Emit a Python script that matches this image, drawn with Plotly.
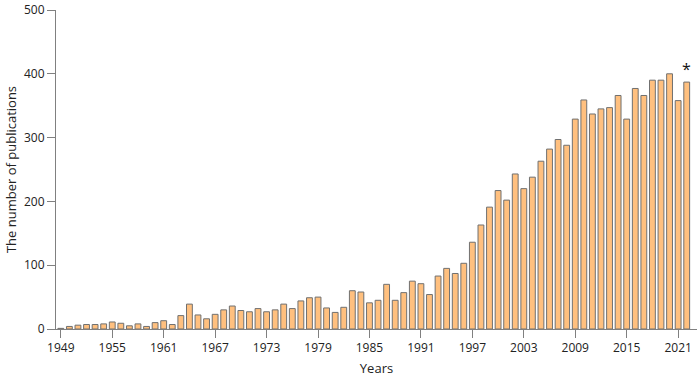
import plotly.graph_objects as go

years = list(range(1949, 2023))
publications = [
    1, 4, 6, 7, 7, 8, 11, 9, 5, 8, 4, 10, 13, 7,          # 1949-1962
    21, 39, 22, 16, 23, 30, 36, 29, 27, 32, 27, 30, 39, 32, 44, 49, 50,  # 1963-1979
    33, 26, 34, 60, 58, 41, 45, 70, 45, 57, 75, 71, 54, 83, 95, 87,      # 1980-1995
    103, 136, 163, 191, 217, 202, 243, 220, 238, 263, 282, 297, 288,     # 1996-2008
    329, 359, 337, 345, 347, 366, 329, 377, 366, 390, 390, 400, 358, 387  # 2009-2022
]
tick_years = list(range(1949, 2022, 6))
y_ticks = [0, 100, 200, 300, 400, 500]

font_family = "Open Sans, Noto Sans, sans-serif"
axis_color = "#808080"

fig = go.Figure()
fig.add_trace(go.Bar(
    x=years,
    y=publications,
    marker=dict(color="#FFC07F", line=dict(color="#707070", width=1)),
    width=0.68,
))

fig.add_annotation(x=2022, y=publications[-1], text="*", showarrow=False,
                   yanchor="bottom", yshift=0, font=dict(size=16, color="#111", family=font_family))

fig.update_layout(
    width=700, height=378,
    margin=dict(l=56, r=3, t=10, b=49, autoexpand=False),
    plot_bgcolor="white", paper_bgcolor="white",
    showlegend=False,
    font=dict(family=font_family, size=12, color="#222"),
)
fig.update_xaxes(
    range=[1948.44, 2023.2],
    tickmode="array", tickvals=tick_years, ticktext=[str(t) for t in tick_years],
    ticks="outside", ticklen=8, tickcolor=axis_color, tickwidth=1,
    showline=True, linecolor=axis_color, linewidth=1,
    showgrid=False, zeroline=False, automargin=False,
    title=dict(text="Years", standoff=8, font=dict(size=13)),
    tickfont=dict(size=12),
)
fig.update_yaxes(
    range=[0, 500],
    tickmode="array", tickvals=y_ticks,
    ticks="outside", ticklen=8, tickcolor=axis_color, tickwidth=1,
    showline=True, linecolor=axis_color, linewidth=1,
    showgrid=False, zeroline=False, automargin=False,
    title=dict(text="The number of publications", standoff=4, font=dict(size=13)),
    tickfont=dict(size=12),
)

fig.write_html("out.html", config={"displayModeBar": False},
               post_script="document.body.style.margin='0';document.body.style.overflow='hidden';")
